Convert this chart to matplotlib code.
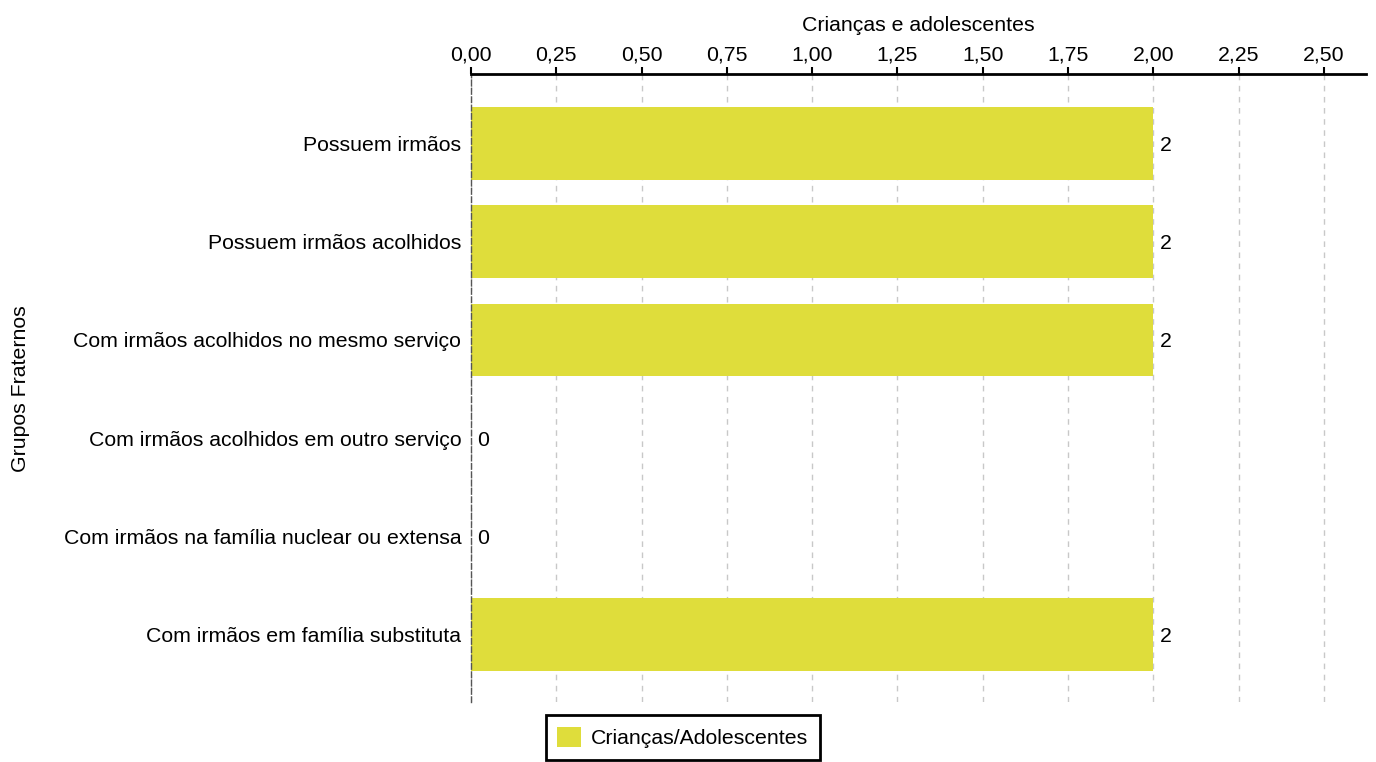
import matplotlib.pyplot as plt
from matplotlib.ticker import FuncFormatter

categorias = ['Possuem irmãos', 'Possuem irmãos acolhidos',
              'Com irmãos acolhidos no mesmo serviço',
              'Com irmãos acolhidos em outro serviço',
              'Com irmãos na família nuclear ou extensa',
              'Com irmãos em família substituta']
valores = [2, 2, 2, 0, 0, 2]
ticks_x = [0, 0.25, 0.5, 0.75, 1.0, 1.25, 1.5, 1.75, 2.0, 2.25, 2.5]

plt.rcParams['font.family'] = ['Liberation Sans', 'DejaVu Sans']
cor = '#dfdd3b'
fs = 15.3

fig = plt.figure(figsize=(13.76, 7.62), dpi=100)
ax = fig.add_axes([0.3423, 0.0787, 0.6504, 0.8242])

pos = list(range(len(categorias)))
ax.barh(pos, valores, height=0.74, color=cor, label='Crianças/Adolescentes', zorder=2)
for p, v in zip(pos, valores):
    ax.text(v + 0.018, p, str(v), va='center_baseline', ha='left', fontsize=fs)

ax.set_ylim(5.69, -0.71)
ax.set_xlim(0, 2.623)
ax.set_yticks(pos)
ax.set_yticklabels(categorias, fontsize=fs)
ax.set_xticks(ticks_x)
ax.xaxis.set_major_formatter(FuncFormatter(lambda x, _: f'{x:.2f}'.replace('.', ',')))
ax.xaxis.tick_top()
ax.xaxis.set_label_position('top')
ax.tick_params(axis='x', labelsize=fs, direction='out', length=5, width=1.5, pad=1.5)
ax.tick_params(axis='y', length=0, pad=7)
ax.grid(axis='x', color='#c8c8c8', linestyle=(0, (4, 4)), linewidth=1, zorder=0)
ax.set_axisbelow(True)

for s in ['right', 'bottom']:
    ax.spines[s].set_visible(False)
ax.spines['top'].set_linewidth(2)
ax.spines['left'].set_color('#555555')
ax.spines['left'].set_linestyle((0, (4, 2)))
ax.spines['left'].set_linewidth(1)

ax.set_xlabel('Crianças e adolescentes', fontsize=fs, labelpad=11)
fig.text(0.015, 0.49, 'Grupos Fraternos', rotation=90, va='center', ha='center', fontsize=fs)

leg = ax.legend(loc='upper center', bbox_to_anchor=(683 / 1376, 0.0617),
                bbox_transform=fig.transFigure, borderaxespad=0, fancybox=False,
                framealpha=1, fontsize=fs, handlelength=1.1, handleheight=1.1,
                borderpad=0.55, handletextpad=0.5)
leg.get_frame().set_edgecolor('black')
leg.get_frame().set_linewidth(2)

fig.savefig('out.png', dpi=100)
